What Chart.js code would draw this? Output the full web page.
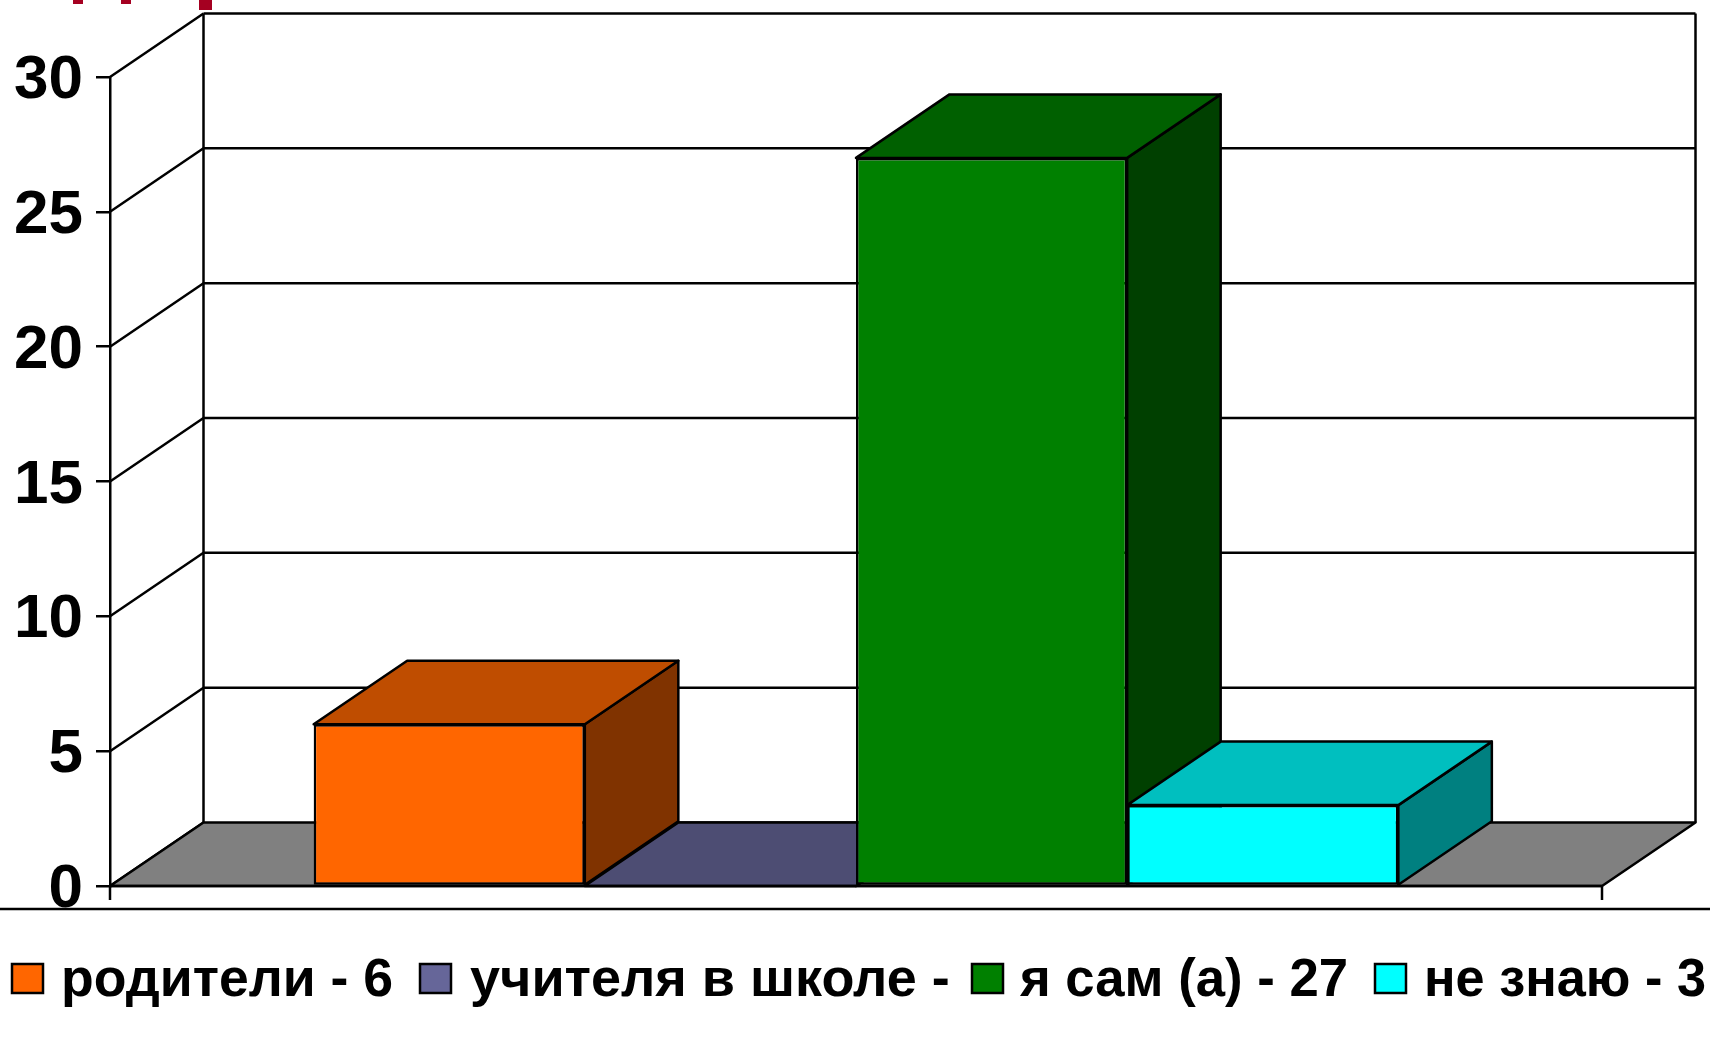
<!DOCTYPE html>
<html>
<head>
<meta charset="utf-8">
<style>
    html, body { margin: 0; padding: 0; background: #fff; overflow: hidden; }
    canvas { display: block; }
</style>
<script src="https://cdn.jsdelivr.net/npm/chart.js@4"></script>
</head>
<body>
<canvas id="chart" width="1710" height="1041"></canvas>
<script>
// 데이터
var categories = [''];
var seriesNames = ['родители', 'учителя в школе', 'я сам (а)', 'не знаю'];
var seriesValues = [6, 0, 27, 3];
var legendLabels = ['родители - 6', 'учителя в школе -', 'я сам (а) - 27', 'не знаю - 3'];
var yTicks = [0, 5, 10, 15, 20, 25, 30];

// 색상
var frontColors = ['#FF6600', '#666699', '#008000', '#00FFFF'];
var topColors = ['#BF4D00', '#4D4D73', '#006000', '#00BFBF'];
var sideColors = ['#803300', '#333366', '#004000', '#008080'];

// 3D 깊이, 범례 위치
var depthX = 93.5, depthY = 63.5;
var legendSwatchX = [12, 420, 972, 1375];
var legendTextX = [61, 470, 1020, 1424];
var legendTextW = [332, 480, 328, 282];

function poly(ctx, pts, fill) {
    ctx.beginPath();
    ctx.moveTo(pts[0][0], pts[0][1]);
    for (var i = 1; i < pts.length; i++) ctx.lineTo(pts[i][0], pts[i][1]);
    ctx.closePath();
    if (fill) {
        ctx.fillStyle = fill;
        ctx.fill();
    }
    ctx.lineWidth = 2.5;
    ctx.strokeStyle = '#000';
    ctx.lineJoin = 'round';
    ctx.stroke();
}

function line(ctx, x1, y1, x2, y2) {
    ctx.beginPath();
    ctx.moveTo(x1, y1);
    ctx.lineTo(x2, y2);
    ctx.lineWidth = 2.5;
    ctx.strokeStyle = '#000';
    ctx.stroke();
}

// 뒷벽, 바닥, 막대 윗면/옆면
var box3d = {
    id: 'box3d',
    beforeDatasetsDraw: function (chart) {
        var ctx = chart.ctx, a = chart.chartArea, y = chart.scales.y;
        var y0 = y.getPixelForValue(0);
        var backL = a.left + depthX, backR = a.right + depthX;
        ctx.save();
        yTicks.forEach(function (v) {
            var py = y.getPixelForValue(v);
            if (v > 0) line(ctx, backL, py - depthY, backR, py - depthY);
            line(ctx, a.left, py, backL, py - depthY);
        });
        line(ctx, backL, y.getPixelForValue(30) - depthY, backL, y0 - depthY);
        line(ctx, backR, y.getPixelForValue(30) - depthY, backR, y0 - depthY);
        poly(ctx, [[a.left, y0], [backL, y0 - depthY], [backR, y0 - depthY], [a.right, y0]], '#808080');

        chart.data.datasets.forEach(function (ds, i) {
            var bar = chart.getDatasetMeta(i).data[0];
            var l = bar.x - bar.width / 2, r = bar.x + bar.width / 2;
            poly(ctx, [[r, bar.y], [r + depthX, bar.y - depthY], [r + depthX, bar.base - depthY], [r, bar.base]], sideColors[i]);
            poly(ctx, [[l, bar.y], [l + depthX, bar.y - depthY], [r + depthX, bar.y - depthY], [r, bar.y]], topColors[i]);
        });
        ctx.restore();
    },
    afterDatasetsDraw: function (chart) {
        var ctx = chart.ctx, a = chart.chartArea, y = chart.scales.y;
        var y0 = y.getPixelForValue(0);
        ctx.save();
        line(ctx, a.left, y0, a.right, y0);
        line(ctx, a.left, y0, a.left, y0 + 14);
        line(ctx, a.right, y0, a.right, y0 + 14);
        line(ctx, 0, 909, chart.width, 909);
        // 잘려 나간 제목의 아랫부분
        ctx.fillStyle = '#A50021';
        ctx.fillRect(73, 0, 10, 4);
        ctx.fillRect(121, 0, 10, 4);
        ctx.fillRect(199, 0, 13, 10);
        ctx.restore();
    }
};

// 범례 (한 줄에 다 안 들어가서 직접 그림)
var legend3d = {
    id: 'legend3d',
    afterDraw: function (chart) {
        var ctx = chart.ctx;
        ctx.save();
        ctx.font = "bold 54px 'Liberation Sans', Arial, sans-serif";
        ctx.textBaseline = 'alphabetic';
        legendLabels.forEach(function (text, i) {
            ctx.fillStyle = frontColors[i];
            ctx.fillRect(legendSwatchX[i], 964, 31, 29);
            ctx.lineWidth = 2.5;
            ctx.strokeStyle = '#000';
            ctx.strokeRect(legendSwatchX[i], 964, 31, 29);
            ctx.fillStyle = '#000';
            ctx.fillText(text, legendTextX[i], 996, legendTextW[i]);
        });
        ctx.restore();
    }
};

new Chart(document.getElementById('chart').getContext('2d'), {
    type: 'bar',
    data: {
        labels: categories,
        datasets: seriesNames.map(function (name, i) {
            return {
                label: name,
                data: [seriesValues[i]],
                backgroundColor: frontColors[i],
                borderColor: '#000',
                borderWidth: 2.5,
                borderSkipped: false
            };
        })
    },
    options: {
        responsive: false,
        animation: false,
        layout: { padding: { top: 77, right: 108, bottom: 155, left: 0 } },
        plugins: {
            legend: { display: false },
            title: { display: false },
            tooltip: { enabled: false }
        },
        datasets: { bar: { categoryPercentage: 0.727, barPercentage: 1 } },
        scales: {
            x: { display: false },
            y: {
                min: 0,
                max: 30,
                afterFit: function (scale) { scale.width = 110; },
                afterBuildTicks: function (scale) {
                    scale.ticks = yTicks.map(function (v) { return { value: v }; });
                },
                border: { display: true, color: '#000', width: 2.5 },
                grid: { drawOnChartArea: false, color: '#000', lineWidth: 2.5, tickLength: 14 },
                ticks: {
                    color: '#000',
                    padding: 13,
                    labelOffset: 4,
                    font: { family: "'Liberation Sans', Arial, sans-serif", size: 62, weight: 'bold' }
                }
            }
        }
    },
    plugins: [box3d, legend3d]
});
</script>
</body>
</html>
